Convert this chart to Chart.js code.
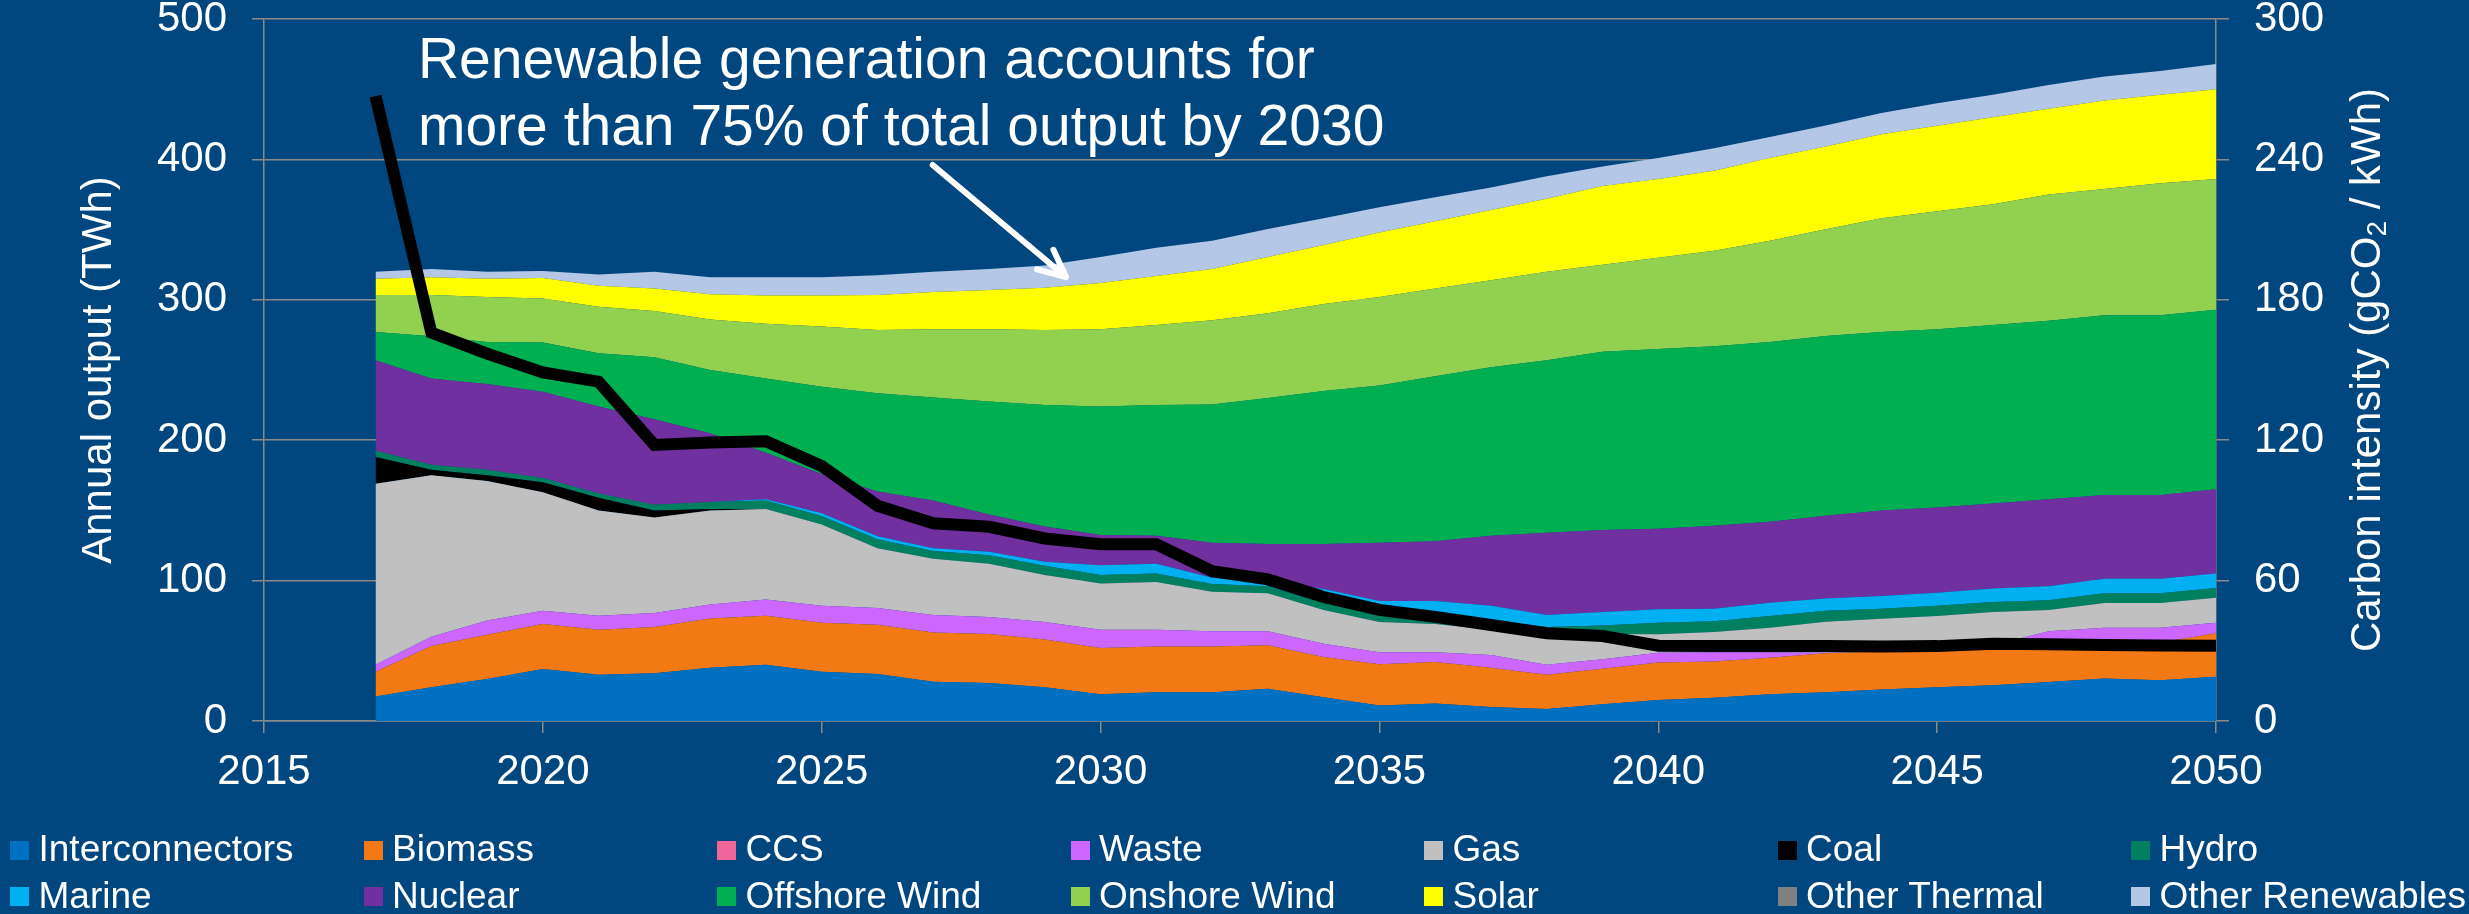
<!DOCTYPE html>
<html>
<head>
<meta charset="utf-8">
<title>Generation mix and carbon intensity</title>
<script src="https://cdn.jsdelivr.net/npm/chart.js@4.4.1/dist/chart.umd.min.js"></script>
<style>
  html, body { margin: 0; padding: 0; background: #00477F; }
  #wrap { position: relative; width: 2469px; height: 914px; background: #00477F; font-family: "Liberation Sans", Arial, sans-serif; }
  #chart { position: absolute; left: 0; top: 0; }
  #legend { position: absolute; left: 10px; top: 826px; margin: 0; padding: 0; list-style: none;
            display: grid; grid-template-columns: repeat(7, 353.5px); grid-auto-rows: 46.5px; }
  #legend li { position: relative; padding-left: 28.5px; font-size: 37px; line-height: 46.5px; color: #fff; white-space: nowrap; }
  #legend li span { position: absolute; left: 0; top: 14.5px; width: 19px; height: 19px; }
</style>
</head>
<body>
<div id="wrap">
  <canvas id="chart" width="2469" height="914"></canvas>
  <ul id="legend"></ul>
</div>
<script>
const chartCanvas = document.getElementById('chart');
const legendList = document.getElementById('legend');

// years on the x axis
const years = [2017, 2018, 2019, 2020, 2021, 2022, 2023, 2024, 2025, 2026,
    2027, 2028, 2029, 2030, 2031, 2032, 2033, 2034, 2035, 2036,
    2037, 2038, 2039, 2040, 2041, 2042, 2043, 2044, 2045, 2046,
    2047, 2048, 2049, 2050];

// annual output by source (TWh), stacked bottom to top
const interconnectors = [17.5, 24, 30, 37, 33, 34, 38, 40, 35, 33.5,
    28, 27, 24, 19, 20.5, 20.5, 23, 17, 11, 12.5,
    10, 8.5, 12, 15, 16.5, 19, 20.5, 22.5, 24, 25.5,
    27.7, 30.3, 29, 31.5];
const biomass = [17.5, 29.5, 31.5, 32, 32, 33, 35, 35, 35, 35,
    35, 35, 34, 33, 32.5, 32.5, 31, 28.5, 29.5, 29.5,
    28, 24.5, 25.3, 26.6, 25.8, 26, 27.7, 27, 26.6, 25.5,
    24.3, 22.7, 27, 31];
const ccs = [0, 0, 0, 0, 0, 0, 0, 0, 0, 0,
    0, 0, 0, 0, 0, 0, 0, 0, 0, 0,
    0, 0, 0, 0, 0, 0, 0, 0, 0, 0,
    0, 0, 0, 0];
const waste = [5, 6.5, 10, 9.5, 10, 10, 10, 11.5, 12, 12,
    12.5, 12, 12.5, 13, 12, 11, 10, 9.5, 8.5, 7,
    9, 7, 6.7, 7.1, 6.7, 4, 0.5, 0.2, 0.4, 3,
    12, 13.4, 10.4, 7.5];
const gas = [129, 115, 99.5, 84.5, 75, 68, 67, 64.5, 58, 42.5,
    40, 38, 33.5, 33, 34, 28, 27, 24, 21.5, 20,
    18, 21, 18, 13.1, 14.4, 17.5, 22, 23.2, 23.8, 23.7,
    15, 17.6, 17.6, 17.7];
const coal = [19, 4, 4, 7, 9, 5, 1, 0, 0, 0,
    0, 0, 0, 0, 0, 0, 0, 0, 0, 0,
    0, 0, 0, 0, 0, 0, 0, 0, 0, 0,
    0, 0, 0, 0];
const hydro = [4.5, 3.5, 4, 3, 3, 4, 5, 6, 6, 6.5,
    5.5, 6, 6.5, 6, 6, 5.5, 5, 5, 5.5, 5.5,
    6, 6, 6, 8.2, 7.6, 8.3, 7.9, 7.1, 7.2, 7.1,
    7, 7, 7, 7.1];
const marine = [0, 0, 0, 0, 0, 0, 0, 1, 2, 2,
    2, 2.5, 3, 7, 7, 4.5, 3, 10, 9.5, 11,
    11, 8.5, 9.7, 9.6, 9, 9.5, 8.6, 9, 9.4, 9.5,
    10, 10.4, 10.4, 10.2];
const nuclear = [64.5, 61.5, 61, 61.5, 62, 61, 49, 33, 28, 32,
    34, 26.5, 25, 21.5, 20, 25, 27, 32, 41.5, 42.5,
    50, 58.5, 58.3, 57.4, 59, 57.7, 59, 61, 60.6, 60.7,
    62, 59.6, 59.6, 60];
const offshoreWind = [20, 30, 30, 35, 38, 44, 45, 53, 62, 70,
    73.5, 80.5, 86.5, 91.5, 93, 98.5, 104, 109, 112, 117.5,
    120, 123, 127, 128, 128, 128, 128, 127, 127, 127,
    127, 128, 128, 128];
const onshoreWind = [26.5, 29.5, 32, 31.5, 33, 33, 36, 39, 43, 45,
    48.5, 51.5, 53.5, 55, 57, 60, 60.5, 62, 63, 62.5,
    62, 63, 62, 65, 68, 72, 76, 81, 84, 86,
    90, 90, 94, 93];
const solar = [11.5, 12.5, 13, 14.5, 15, 16, 18, 20, 22, 25,
    26.5, 28, 30, 33, 35, 36.5, 40, 42, 46, 48,
    50, 52, 56, 56, 57, 59, 59, 60, 61, 62,
    61, 63, 63, 64];
const otherThermal = [0, 0, 0, 0, 0, 0, 0, 0, 0, 0,
    0, 0, 0, 0, 0, 0, 0, 0, 0, 0,
    0, 0, 0, 0, 0, 0, 0, 0, 0, 0,
    0, 0, 0, 0];
const otherRenewables = [5, 6, 5, 5, 8, 12, 12, 13, 13, 14,
    14.5, 15, 16, 18.5, 20, 20, 20, 19, 18, 17,
    16, 16, 14, 15, 16, 15, 15, 15, 16, 16,
    17, 17, 17, 18];

// carbon intensity (gCO2 / kWh), right axis
const carbonIntensity = [267, 166, 157, 149, 145, 118, 119, 119.5, 109, 92,
    84.5, 83, 78, 75.5, 75.5, 64, 60.5, 53, 47.5, 44.5,
    41, 37.5, 36.3, 32.2, 32, 32, 32, 31.8, 32, 33,
    32.8, 32.5, 32.3, 32.2];

// axis tick settings
const outputTicks = { min: 0, max: 500, step: 100 };
const intensityTicks = { min: 0, max: 300, step: 60 };
const yearTicks = { min: 2015, max: 2050, step: 5 };

const areaSeries = [
    ['Interconnectors', interconnectors, '#0070C0'],
    ['Biomass', biomass, '#F27913'],
    ['CCS', ccs, '#F0669A'],
    ['Waste', waste, '#CC66FF'],
    ['Gas', gas, '#C0C0C0'],
    ['Coal', coal, '#000000'],
    ['Hydro', hydro, '#00805F'],
    ['Marine', marine, '#00B0F0'],
    ['Nuclear', nuclear, '#7030A0'],
    ['Offshore Wind', offshoreWind, '#00B050'],
    ['Onshore Wind', onshoreWind, '#92D050'],
    ['Solar', solar, '#FFFF00'],
    ['Other Thermal', otherThermal, '#808080'],
    ['Other Renewables', otherRenewables, '#B4C7E7']
];

const fontFamily = '"Liberation Sans", Arial, sans-serif';
const gridColor = '#8A8A8A';
Chart.defaults.font.family = fontFamily;

const datasets = areaSeries.map(([label, data, color], i) => ({
    label: label,
    data: data,
    yAxisID: 'y',
    backgroundColor: color,
    borderColor: 'rgba(0,0,0,0)',
    borderWidth: 0,
    pointRadius: 0,
    tension: 0,
    fill: i === 0 ? 'origin' : '-1'
}));

datasets.push({
    label: 'Carbon intensity',
    data: carbonIntensity,
    yAxisID: 'y1',
    borderColor: '#000000',
    borderWidth: 12,
    borderJoinStyle: 'miter',
    pointRadius: 0,
    tension: 0,
    fill: false,
    order: -1
});

// axis titles and the callout text / arrow
const decorPlugin = {
    id: 'decor',
    afterDraw(chart) {
        const { ctx, chartArea, scales } = chart;
        const midY = (chartArea.top + chartArea.bottom) / 2;
        ctx.save();
        ctx.fillStyle = '#FFFFFF';
        ctx.textBaseline = 'middle';

        // left title
        ctx.font = '42px ' + fontFamily;
        ctx.textAlign = 'center';
        ctx.save();
        ctx.translate(chartArea.left - 165, midY);
        ctx.rotate(-Math.PI / 2);
        ctx.fillText('Annual output (TWh)', 0, 0);
        ctx.restore();

        // right title with subscript 2
        const partA = 'Carbon intensity (gCO';
        const partB = ' / kWh)';
        ctx.font = '42px ' + fontFamily;
        const wA = ctx.measureText(partA).width;
        const wB = ctx.measureText(partB).width;
        ctx.font = '28px ' + fontFamily;
        const wSub = ctx.measureText('2').width;
        const total = wA + wSub + wB;
        ctx.save();
        ctx.translate(chartArea.right + 152, midY);
        ctx.rotate(-Math.PI / 2);
        ctx.textAlign = 'left';
        ctx.font = '42px ' + fontFamily;
        ctx.fillText(partA, -total / 2, 0);
        ctx.font = '28px ' + fontFamily;
        ctx.fillText('2', -total / 2 + wA, 10);
        ctx.font = '42px ' + fontFamily;
        ctx.fillText(partB, -total / 2 + wA + wSub, 0);
        ctx.restore();

        // callout text
        const x = scales.x, y = scales.y;
        ctx.font = '57px ' + fontFamily;
        ctx.textAlign = 'left';
        ctx.textBaseline = 'alphabetic';
        ctx.fillText('Renewable generation accounts for', x.getPixelForValue(2017.76), y.getPixelForValue(458));
        ctx.fillText('more than 75% of total output by 2030', x.getPixelForValue(2017.76), y.getPixelForValue(410.3));

        // arrow
        const x0 = x.getPixelForValue(2026.99), y0 = y.getPixelForValue(396);
        const x1 = x.getPixelForValue(2029.38), y1 = y.getPixelForValue(316.2);
        const ang = Math.atan2(y1 - y0, x1 - x0);
        const head = 30, spread = 0.44;
        ctx.strokeStyle = '#FFFFFF';
        ctx.lineWidth = 6;
        ctx.lineCap = 'round';
        ctx.lineJoin = 'round';
        ctx.beginPath();
        ctx.moveTo(x0, y0);
        ctx.lineTo(x1, y1);
        ctx.moveTo(x1 - head * Math.cos(ang - spread), y1 - head * Math.sin(ang - spread));
        ctx.lineTo(x1, y1);
        ctx.lineTo(x1 - head * Math.cos(ang + spread), y1 - head * Math.sin(ang + spread));
        ctx.stroke();
        ctx.restore();
    }
};

const tickFont = { family: fontFamily, size: 42, lineHeight: 0.9 };

// keep the plot area where the reference has it
function fixVertical(width) {
    return scale => {
        scale.width = width;
        scale.paddingTop = 0;
        scale.paddingBottom = 0;
    };
}

const mixChart = new Chart(chartCanvas, {
    type: 'line',
    data: {
        labels: years,
        datasets: datasets
    },
    options: {
        responsive: false,
        devicePixelRatio: 1,
        animation: false,
        layout: { padding: { top: 19, left: 0, right: 0, bottom: 0 } },
        plugins: {
            legend: { display: false },
            tooltip: { enabled: false }
        },
        scales: {
            x: {
                type: 'linear',
                min: yearTicks.min,
                max: yearTicks.max,
                ticks: {
                    stepSize: yearTicks.step,
                    color: '#FFFFFF',
                    font: { family: fontFamily, size: 42 },
                    padding: 14,
                    maxRotation: 0,
                    callback: v => String(v)
                },
                grid: { drawOnChartArea: false, color: gridColor, lineWidth: 1.5, tickLength: 12 },
                border: { color: gridColor, width: 1.5 },
                afterFit: scale => { scale.height = 193; }
            },
            y: {
                position: 'left',
                stacked: true,
                min: outputTicks.min,
                max: outputTicks.max,
                ticks: { stepSize: outputTicks.step, color: '#FFFFFF', font: tickFont, padding: 25 },
                grid: { color: gridColor, lineWidth: 1.5, tickLength: 12 },
                border: { color: gridColor, width: 1.5 },
                afterFit: fixVertical(264)
            },
            y1: {
                position: 'right',
                min: intensityTicks.min,
                max: intensityTicks.max,
                ticks: { stepSize: intensityTicks.step, color: '#FFFFFF', font: tickFont, padding: 25 },
                grid: { drawOnChartArea: false, color: gridColor, lineWidth: 1.5, tickLength: 13 },
                border: { color: gridColor, width: 1.5 },
                afterFit: fixVertical(253)
            }
        }
    },
    plugins: [decorPlugin]
});

// legend as a fixed grid of 7 columns
legendList.innerHTML = areaSeries
    .map(([label, , color]) => `<li><span style="background:${color}"></span>${label}</li>`)
    .join('');
</script>
</body>
</html>
